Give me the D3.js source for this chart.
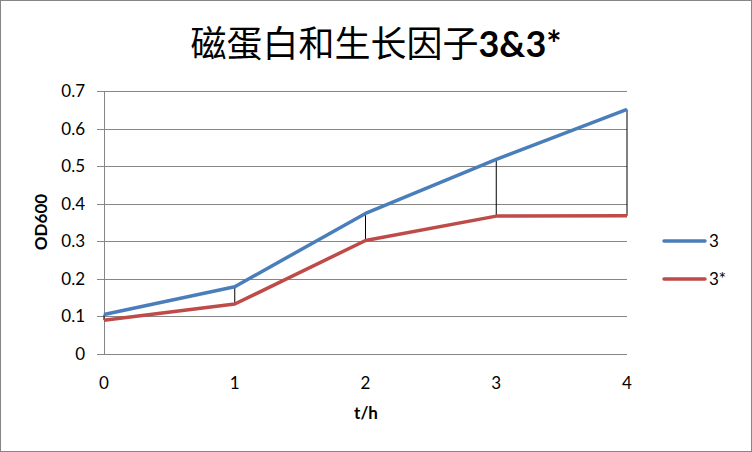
<!DOCTYPE html>
<html><head><meta charset="utf-8">
<script src="https://cdn.jsdelivr.net/npm/d3@7"></script>
<style>body{margin:0;background:#fff}svg{display:block}</style>
</head><body>
<script>
const hours = [0, 1, 2, 3, 4];
const series3 = [0.105, 0.179, 0.374, 0.518, 0.651];
const series3s = [0.09, 0.133, 0.302, 0.367, 0.368];
const seriesNames = ["3", "3*"];
const seriesColors = ["#4a7ebb", "#be4b48"];
const yTicks = [0, 0.1, 0.2, 0.3, 0.4, 0.5, 0.6, 0.7];

const W = 752, H = 452;
const svg = d3.select("body").append("svg").attr("width", W).attr("height", H);
svg.append("rect").attr("x", 0.5).attr("y", 0.5).attr("width", W - 1).attr("height", H - 1)
  .attr("fill", "#fff").attr("stroke", "#868686");

const x = d3.scaleLinear().domain([0, 4]).range([104, 627]);
const y = d3.scaleLinear().domain([0, 0.7]).range([354, 91]);
const font = "Lato, 'Open Sans', 'Noto Sans', sans-serif";

// gridlines
svg.append("g").selectAll("line").data(yTicks).join("line")
  .attr("x1", 97).attr("x2", 627)
  .attr("y1", d => Math.round(y(d)) + 0.5).attr("y2", d => Math.round(y(d)) + 0.5)
  .attr("stroke", "#868686").attr("stroke-width", 1);
// y axis line
svg.append("line").attr("x1", 104.5).attr("x2", 104.5).attr("y1", y(0.7)).attr("y2", y(0))
  .attr("stroke", "#868686");

// y labels
svg.append("g").selectAll("text").data(yTicks).join("text")
  .attr("x", 85).attr("y", d => y(d)).attr("dy", "0.35em").attr("text-anchor", "end")
  .attr("font-family", font).attr("font-size", 17).attr("fill", "#000")
  .text(d => d === 0 ? "0" : d3.format(".1f")(d));
// x labels
svg.append("g").selectAll("text").data(hours).join("text")
  .attr("x", d => x(d)).attr("y", 389).attr("text-anchor", "middle")
  .attr("font-family", font).attr("font-size", 17).attr("fill", "#000")
  .text(d => d);

// axis titles
svg.append("text").attr("x", 366).attr("y", 419).attr("text-anchor", "middle")
  .attr("font-family", font).attr("font-size", 17).attr("font-weight", "bold").text("t/h");
svg.append("text").attr("transform", "translate(47,222) rotate(-90)").attr("text-anchor", "middle")
  .attr("font-family", font).attr("font-size", 17).attr("font-weight", "bold").text("OD600");

// title
const t = svg.append("text").attr("x", 376).attr("y", 57).attr("text-anchor", "middle")
  .attr("font-size", 36).attr("fill", "#000");
t.append("tspan").attr("font-family", "'Noto Sans CJK SC', sans-serif").text("磁蛋白和生长因子");
t.append("tspan").attr("font-family", font).attr("font-weight", "bold").text("3&3*");

// high-low lines
svg.append("g").selectAll("line").data(hours).join("line")
  .attr("x1", d => x(d)).attr("x2", (d) => x(d))
  .attr("y1", (d, i) => y(series3[i])).attr("y2", (d, i) => y(series3s[i]))
  .attr("stroke", "#000").attr("stroke-width", 1);

const line = d3.line().x((d, i) => x(hours[i])).y(d => y(d));
[series3, series3s].forEach((s, k) => {
  svg.append("path").datum(s).attr("d", line).attr("fill", "none")
    .attr("stroke", seriesColors[k]).attr("stroke-width", 3.5).attr("stroke-linejoin", "round");
});

// legend
const lg = svg.append("g").selectAll("g").data(seriesNames).join("g")
  .attr("transform", (d, i) => `translate(0,${241 + i * 38})`);
lg.append("line").attr("x1", 664).attr("x2", 705).attr("y1", 0).attr("y2", 0)
  .attr("stroke", (d, i) => seriesColors[i]).attr("stroke-width", 3.5).attr("stroke-linecap", "round");
lg.append("text").attr("x", 709).attr("y", 0).attr("dy", "0.35em")
  .attr("font-family", font).attr("font-size", 17).text(d => d);
</script>
</body></html>
